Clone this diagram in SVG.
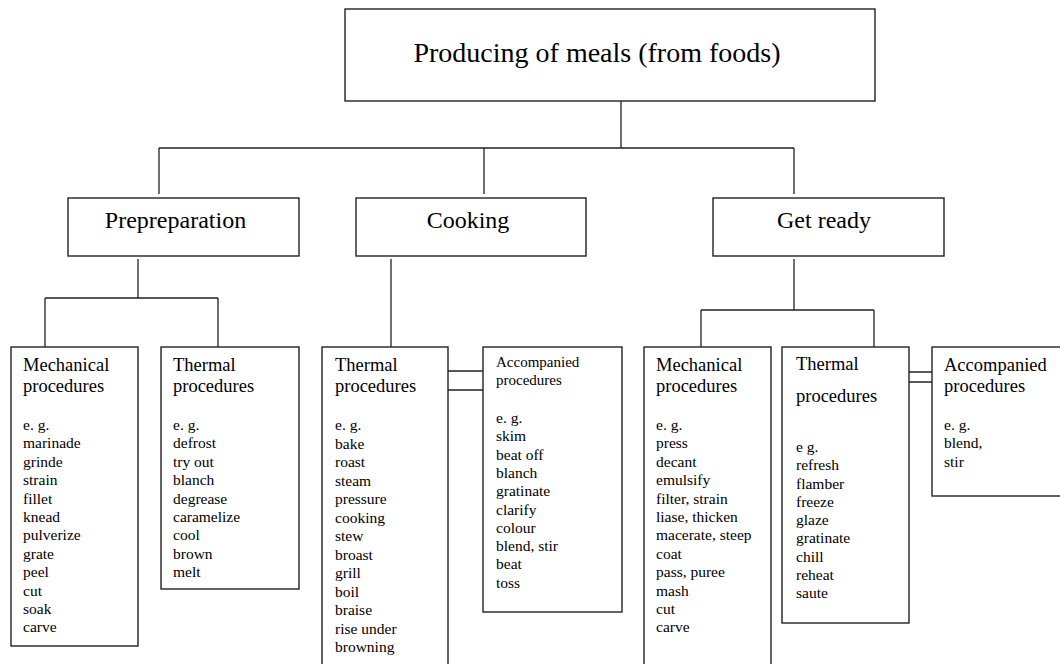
<svg xmlns="http://www.w3.org/2000/svg" width="1060" height="664" viewBox="0 0 1060 664">
<style>
.box{fill:#fff;stroke:#222;stroke-width:1.4}
.ln{fill:none;stroke:#222;stroke-width:1.3}
text{font-family:"Liberation Serif","Times New Roman",serif;fill:#000}
.t1{font-size:28px;text-anchor:middle}
.t2{font-size:24px;text-anchor:middle}
.h{font-size:18.5px}
.hs{font-size:15px}
.l{font-size:15.5px}
</style>
<rect width="1060" height="664" fill="#fff"/>
<g id="connectors">
<path class="ln" d="M621,101V148M159,148H794M159,148V194M484,148V194M794,148V194"/>
<path class="ln" d="M138,259V298M45,298H218M45,298V347M218,298V347"/>
<path class="ln" d="M391,259V347"/>
<path class="ln" d="M794,259V310M701,310H874M701,310V347M874,310V347"/>
<path class="ln" d="M448,371H483M448,390H483"/>
<path class="ln" d="M909,372H932M909,382H932"/>
</g>
<g id="root">
<rect class="box" x="345" y="9" width="530" height="92"/>
<text class="t1" x="597" y="62">Producing of meals (from foods)</text>
</g>
<g id="prepreparation">
<rect class="box" x="68" y="198" width="231" height="58"/>
<text class="t2" x="175.5" y="228">Prepreparation</text>
</g>
<g id="cooking">
<rect class="box" x="356" y="198" width="230" height="58"/>
<text class="t2" x="468" y="228">Cooking</text>
</g>
<g id="getready">
<rect class="box" x="713" y="198" width="231" height="58"/>
<text class="t2" x="824" y="228">Get ready</text>
</g>
<g id="prep-mechanical">
<rect class="box" x="11" y="347" width="127" height="299"/>
<text class="h" x="23" y="371">Mechanical</text>
<text class="h" x="23" y="392">procedures</text>
<text class="l" x="23" y="430">e. g.</text>
<text class="l" x="23" y="448.4">marinade</text>
<text class="l" x="23" y="466.8">grinde</text>
<text class="l" x="23" y="485.2">strain</text>
<text class="l" x="23" y="503.6">fillet</text>
<text class="l" x="23" y="522">knead</text>
<text class="l" x="23" y="540.4">pulverize</text>
<text class="l" x="23" y="558.8">grate</text>
<text class="l" x="23" y="577.2">peel</text>
<text class="l" x="23" y="595.6">cut</text>
<text class="l" x="23" y="614">soak</text>
<text class="l" x="23" y="632.4">carve</text>
</g>
<g id="prep-thermal">
<rect class="box" x="161" y="347" width="138" height="242"/>
<text class="h" x="173" y="371">Thermal</text>
<text class="h" x="173" y="392">procedures</text>
<text class="l" x="173" y="430">e. g.</text>
<text class="l" x="173" y="448.4">defrost</text>
<text class="l" x="173" y="466.8">try out</text>
<text class="l" x="173" y="485.2">blanch</text>
<text class="l" x="173" y="503.6">degrease</text>
<text class="l" x="173" y="522">caramelize</text>
<text class="l" x="173" y="540.4">cool</text>
<text class="l" x="173" y="558.8">brown</text>
<text class="l" x="173" y="577.2">melt</text>
</g>
<g id="cook-thermal">
<rect class="box" x="322" y="347" width="126" height="330"/>
<text class="h" x="335" y="371">Thermal</text>
<text class="h" x="335" y="392">procedures</text>
<text class="l" x="335" y="430">e. g.</text>
<text class="l" x="335" y="448.5">bake</text>
<text class="l" x="335" y="467">roast</text>
<text class="l" x="335" y="485.5">steam</text>
<text class="l" x="335" y="504">pressure</text>
<text class="l" x="335" y="522.5">cooking</text>
<text class="l" x="335" y="541">stew</text>
<text class="l" x="335" y="559.5">broast</text>
<text class="l" x="335" y="578">grill</text>
<text class="l" x="335" y="596.5">boil</text>
<text class="l" x="335" y="615">braise</text>
<text class="l" x="335" y="633.5">rise under</text>
<text class="l" x="335" y="652">browning</text>
</g>
<g id="cook-accompanied">
<rect class="box" x="483" y="347" width="139" height="265"/>
<text class="hs" x="496" y="367">Accompanied</text>
<text class="hs" x="496" y="385">procedures</text>
<text class="l" x="496" y="423">e. g.</text>
<text class="l" x="496" y="441.3">skim</text>
<text class="l" x="496" y="459.6">beat off</text>
<text class="l" x="496" y="477.9">blanch</text>
<text class="l" x="496" y="496.2">gratinate</text>
<text class="l" x="496" y="514.5">clarify</text>
<text class="l" x="496" y="532.8">colour</text>
<text class="l" x="496" y="551.1">blend, stir</text>
<text class="l" x="496" y="569.4">beat</text>
<text class="l" x="496" y="587.7">toss</text>
</g>
<g id="ready-mechanical">
<rect class="box" x="644" y="347" width="127" height="330"/>
<text class="h" x="656" y="371">Mechanical</text>
<text class="h" x="656" y="392">procedures</text>
<text class="l" x="656" y="430">e. g.</text>
<text class="l" x="656" y="448.4">press</text>
<text class="l" x="656" y="466.8">decant</text>
<text class="l" x="656" y="485.2">emulsify</text>
<text class="l" x="656" y="503.6">filter, strain</text>
<text class="l" x="656" y="522">liase, thicken</text>
<text class="l" x="656" y="540.4">macerate, steep</text>
<text class="l" x="656" y="558.8">coat</text>
<text class="l" x="656" y="577.2">pass, puree</text>
<text class="l" x="656" y="595.6">mash</text>
<text class="l" x="656" y="614">cut</text>
<text class="l" x="656" y="632.4">carve</text>
</g>
<g id="ready-thermal">
<rect class="box" x="782" y="347" width="127" height="276"/>
<text class="h" x="796" y="370">Thermal</text>
<text class="h" x="796" y="402">procedures</text>
<text class="l" x="796" y="452">e g.</text>
<text class="l" x="796" y="470.25">refresh</text>
<text class="l" x="796" y="488.5">flamber</text>
<text class="l" x="796" y="506.75">freeze</text>
<text class="l" x="796" y="525">glaze</text>
<text class="l" x="796" y="543.25">gratinate</text>
<text class="l" x="796" y="561.5">chill</text>
<text class="l" x="796" y="579.75">reheat</text>
<text class="l" x="796" y="598">saute</text>
</g>
<g id="ready-accompanied">
<rect class="box" x="932" y="347" width="132" height="149"/>
<text class="h" x="944" y="371">Accompanied</text>
<text class="h" x="944" y="392">procedures</text>
<text class="l" x="944" y="430">e. g.</text>
<text class="l" x="944" y="448.4">blend,</text>
<text class="l" x="944" y="466.8">stir</text>
</g>
</svg>
